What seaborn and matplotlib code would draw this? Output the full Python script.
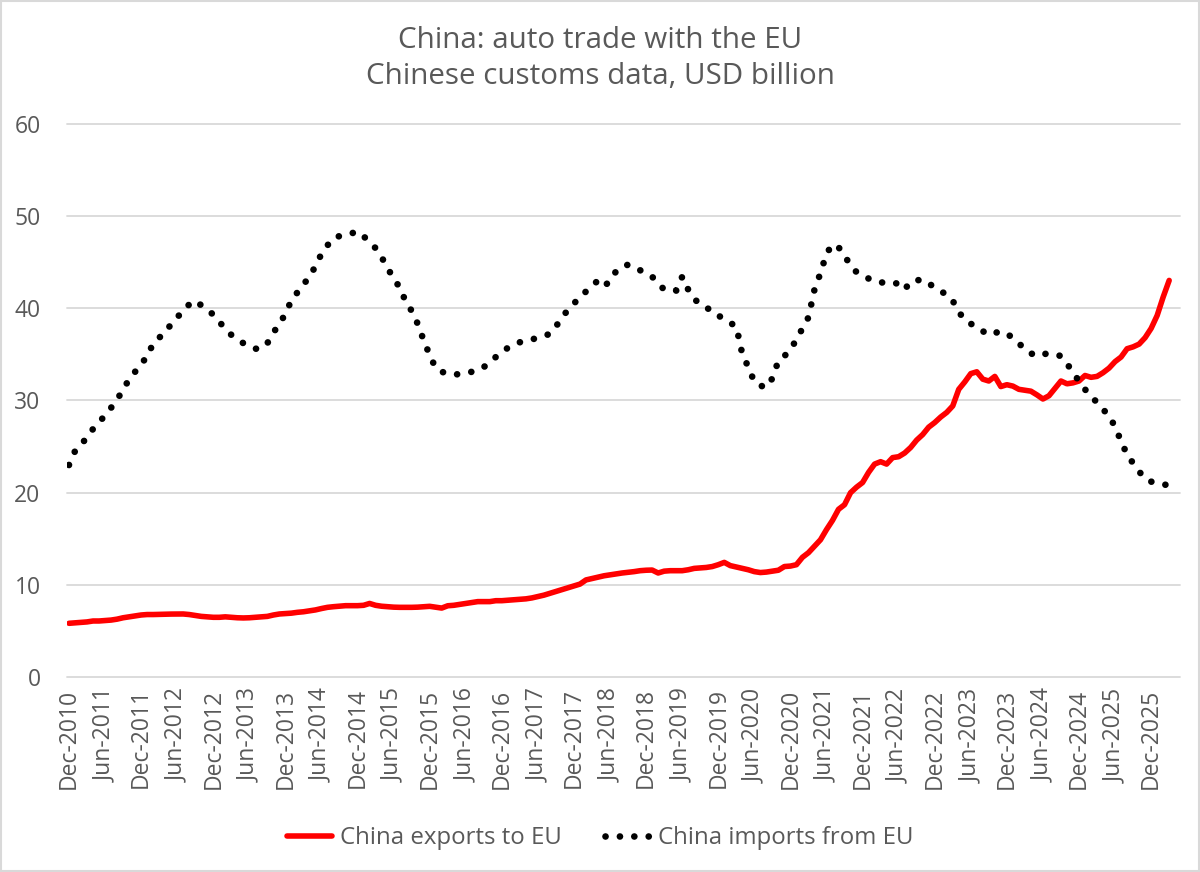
import numpy as np
import pandas as pd
import matplotlib
matplotlib.use("Agg")
import matplotlib.pyplot as plt
import seaborn as sns
from matplotlib.patches import Rectangle

# Monthly, Dec-2010 .. Mar-2026 (12-month rolling, USD billion)
exports_to_eu = [
    5.85, 5.9, 5.95, 6.0, 6.1, 6.1, 6.15, 6.2, 6.3, 6.45, 6.55, 6.65,          # Dec10-Nov11
    6.75, 6.8, 6.8, 6.82, 6.85, 6.85, 6.85, 6.86, 6.8, 6.7, 6.6, 6.55,         # Dec11-Nov12
    6.5, 6.5, 6.55, 6.5, 6.45, 6.43, 6.45, 6.5, 6.55, 6.6, 6.75, 6.86,         # Dec12-Nov13
    6.9, 6.95, 7.04, 7.1, 7.2, 7.3, 7.45, 7.58, 7.65, 7.7, 7.76, 7.76,         # Dec13-Nov14
    7.76, 7.8, 8.0, 7.8, 7.7, 7.65, 7.6, 7.58, 7.58, 7.58, 7.6, 7.65,          # Dec14-Nov15
    7.69, 7.6, 7.5, 7.75, 7.8, 7.9, 8.0, 8.1, 8.2, 8.2, 8.2, 8.3,              # Dec15-Nov16
    8.3, 8.35, 8.4, 8.45, 8.5, 8.6, 8.75, 8.9, 9.1, 9.3, 9.5, 9.7,             # Dec16-Nov17
    9.9, 10.1, 10.55, 10.7, 10.85, 11.0, 11.1, 11.2, 11.3, 11.37, 11.45, 11.55,  # Dec17-Nov18
    11.6, 11.62, 11.3, 11.5, 11.55, 11.55, 11.55, 11.65, 11.8, 11.85, 11.9, 12.0,  # Dec18-Nov19
    12.2, 12.45, 12.1, 11.95, 11.8, 11.65, 11.45, 11.35, 11.4, 11.5, 11.6, 12.0,   # Dec19-Nov20
    12.05, 12.2, 13.0, 13.5, 14.2, 14.9, 16.0, 17.0, 18.2, 18.7, 20.0, 20.6,       # Dec20-Nov21
    21.1, 22.2, 23.1, 23.36, 23.1, 23.8, 23.9, 24.3, 24.9, 25.7, 26.3, 27.1,       # Dec21-Nov22
    27.6, 28.2, 28.7, 29.4, 31.2, 32.0, 32.9, 33.1, 32.3, 32.1, 32.6, 31.5,        # Dec22-Nov23
    31.7, 31.55, 31.2, 31.1, 31.0, 30.6, 30.15, 30.5, 31.3, 32.1, 31.8, 31.9,      # Dec23-Nov24
    32.1, 32.7, 32.5, 32.6, 33.0, 33.5, 34.2, 34.7, 35.6, 35.8, 36.1, 36.8,        # Dec24-Nov25
    37.8, 39.2, 41.2, 43.0,                                                        # Dec25-Mar26
]

imports_from_eu = [
    23.0, 24.5, 25.1, 26.1, 26.9, 27.6, 28.4, 29.2, 30.0, 31.3, 32.2, 33.1,
    34.0, 34.7, 36.2, 36.8, 37.3, 38.3, 39.0, 39.7, 40.4, 40.8, 40.3, 39.8,
    39.3, 38.5, 37.8, 37.1, 36.6, 36.2, 35.9, 35.6, 35.6, 36.2, 37.3, 38.4,
    39.3, 40.9, 41.7, 42.5, 43.5, 44.5, 45.9, 46.8, 47.6, 47.8, 47.9, 48.1,
    48.3, 47.8, 47.1, 46.5, 45.5, 44.4, 43.1, 42.3, 40.7, 39.7, 38.3, 36.5,
    34.9, 33.5, 33.1, 32.9, 32.8, 32.85, 32.95, 33.1, 33.3, 33.6, 34.2, 34.7,
    35.2, 35.7, 36.0, 36.3, 36.5, 36.6, 36.8, 37.0, 37.2, 38.0, 39.0, 39.8,
    40.5, 41.2, 41.8, 42.4, 43.0, 42.4, 42.9, 44.0, 44.5, 44.7, 44.5, 44.1,
    43.8, 43.4, 42.7, 42.0, 42.0, 41.9, 43.4, 42.0, 41.0, 40.4, 40.0, 39.8,
    39.2, 38.8, 38.4, 38.0, 35.0, 33.6, 32.0, 31.6, 31.4, 32.4, 34.3, 34.8,
    35.5, 36.6, 37.8, 39.0, 42.0, 43.8, 45.9, 46.9, 46.6, 45.7, 44.6, 43.9,
    43.6, 43.2, 42.9, 42.8, 42.7, 42.8, 42.6, 42.0, 42.9, 43.0, 43.1, 42.7,
    42.2, 41.8, 41.5, 40.8, 39.6, 38.7, 38.3, 38.0, 37.5, 37.1, 37.3, 37.5,
    37.2, 36.8, 36.2, 35.5, 35.1, 34.8, 35.0, 35.1, 35.0, 34.8, 34.0, 33.0,
    32.1, 31.2, 30.4, 29.8, 29.0, 28.4, 27.1, 25.6, 24.1, 23.2, 22.3, 21.5,
    21.2, 21.0, 20.9, 20.8,
]

tick_labels = [
    "Dec-2010", "Jun-2011", "Dec-2011", "Jun-2012", "Dec-2012", "Jun-2013",
    "Dec-2013", "Jun-2014", "Dec-2014", "Jun-2015", "Dec-2015", "Jun-2016",
    "Dec-2016", "Jun-2017", "Dec-2017", "Jun-2018", "Dec-2018", "Jun-2019",
    "Dec-2019", "Jun-2020", "Dec-2020", "Jun-2021", "Dec-2021", "Jun-2022",
    "Dec-2022", "Jun-2023", "Dec-2023", "Jun-2024", "Dec-2024", "Jun-2025",
    "Dec-2025",
]

title_line1 = "China: auto trade with the EU"
title_line2 = "Chinese customs data, USD billion"
label_exports = "China exports to EU"
label_imports = "China imports from EU"

n = len(exports_to_eu)
df = pd.DataFrame({
    "month": np.arange(n),
    "exports": exports_to_eu,
    "imports": imports_from_eu,
})

sns.set_theme(style="white")
plt.rcParams["font.family"] = ["Open Sans", "DejaVu Sans"]

TXT = "#595959"
GRID = "#D9D9D9"
W, H = 1200, 872

fig = plt.figure(figsize=(W / 100, H / 100), dpi=100)
fig.patch.set_facecolor("white")
ax_l, ax_r, ax_b, ax_t = 67, 1180, 677.3, 123.5
ax = fig.add_axes([ax_l / W, (H - ax_b) / H, (ax_r - ax_l) / W, (ax_b - ax_t) / H])

sns.lineplot(data=df, x="month", y="exports", ax=ax, color="#FF0000",
             lw=4.0, solid_capstyle="round", solid_joinstyle="round",
             label=label_exports, errorbar=None, zorder=3)
sns.lineplot(data=df, x="month", y="imports", ax=ax, color="black",
             lw=4.8, linestyle=(0, (0.01, 2.15)), dash_capstyle="round",
             label=label_imports, errorbar=None, zorder=4)

ax.set_xlim(-0.33, 184.8)
ax.set_ylim(0, 60)
ax.set_yticks(range(0, 61, 10))
ax.set_xticks(np.arange(0, 6 * len(tick_labels), 6))
ax.set_xticklabels(tick_labels, rotation=90, va="top", ha="center")
ax.set_xlabel("")
ax.set_ylabel("")

for s in ax.spines.values():
    s.set_visible(False)
ax.yaxis.grid(True, color=GRID, lw=1.3)
ax.xaxis.grid(False)
for gl in ax.get_ygridlines():
    gl.set_clip_on(False)
ax.set_axisbelow(True)

ax.tick_params(axis="both", length=0, labelsize=16.5, labelcolor=TXT)
ax.tick_params(axis="y", pad=19)
ax.tick_params(axis="x", pad=8)

handles, labels = ax.get_legend_handles_labels()
if ax.get_legend() is not None:
    ax.get_legend().remove()
fig.legend(handles, labels, loc="center", bbox_to_anchor=(0.5, (H - 838) / H),
           ncol=2, frameon=False, fontsize=17.3, labelcolor=TXT,
           handlelength=1.9, handletextpad=0.3, columnspacing=1.8)

fig.text(0.5, 1 - 40 / H, title_line1, ha="center", va="center", fontsize=21.3, color=TXT)
fig.text(0.5, 1 - 77 / H, title_line2, ha="center", va="center", fontsize=21.3, color=TXT)

fig.patches.append(Rectangle((0.001, 0.001), 0.998, 0.998, transform=fig.transFigure,
                             fill=False, edgecolor=GRID, lw=1.5))

fig.savefig("out.png", dpi=100)
